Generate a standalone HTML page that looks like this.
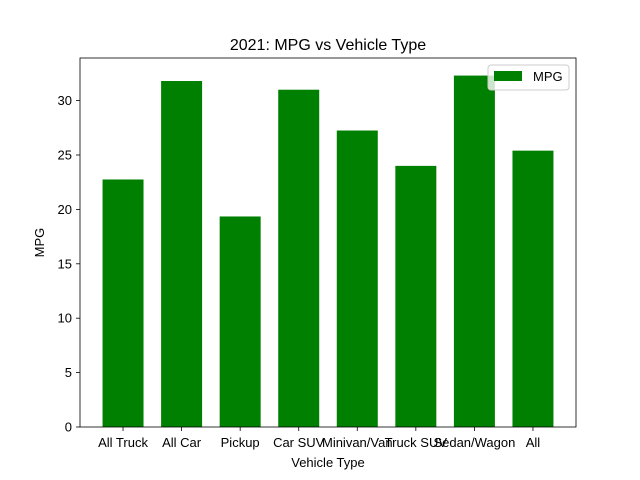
<!DOCTYPE html>
<html><head><meta charset="utf-8"><style>
body{margin:0;background:#fff;}
svg{display:block;font-family:"Liberation Sans","DejaVu Sans",sans-serif;}
</style></head><body>
<svg id="chart" width="640" height="480"></svg>
<script>
const categories=["All Truck","All Car","Pickup","Car SUV","Minivan/Van","Truck SUV","Sedan/Wagon","All"];
const mpgValues=[22.75,31.8,19.35,31.0,27.25,24.0,32.3,25.4];
const yTicks=[0,5,10,15,20,25,30];
const L=80,R=576,T=58,B=427;
const yMax=Math.max(...mpgValues)*1.05;
const n=categories.length;
const xMin=-0.35-0.05*(n-1+0.7), xMax=n-1+0.35+0.05*(n-1+0.7);
const xs=v=>L+(v-xMin)/(xMax-xMin)*(R-L);
const ys=v=>B-v/yMax*(B-T);
const NS="http://www.w3.org/2000/svg";
const svg=document.getElementById('chart');
function mk(tag,attrs,text){const e=document.createElementNS(NS,tag);for(const k in attrs)e.setAttribute(k,attrs[k]);if(text!==undefined)e.textContent=text;svg.appendChild(e);return e;}
categories.forEach((c,i)=>{
  const w=xs(0.35)-xs(-0.35);
  const r=mk('rect',{x:xs(i)-w/2,y:ys(mpgValues[i]),width:w,height:B-ys(mpgValues[i]),fill:'#008000'});
  
  
  const t=mk('line',{x1:xs(i),x2:xs(i),y1:B,y2:B+4,stroke:'#000','stroke-width':0.8});
  const lb=mk('text',{x:xs(i),y:B+20,'text-anchor':'middle','font-size':13},c);
  
  
});
yTicks.forEach(v=>{
  mk('line',{x1:L-4,x2:L,y1:ys(v),y2:ys(v),stroke:'#000','stroke-width':0.8});
  const lb=mk('text',{x:L-8,y:ys(v)+4.5,'text-anchor':'end','font-size':13},v);
  
  
});
const frame=mk('rect',{x:L,y:T,width:R-L,height:B-T,fill:'none',stroke:'#000','stroke-width':0.8});


const ti=mk('text',{x:(L+R)/2,y:50,'text-anchor':'middle','font-size':16},'2021: MPG vs Vehicle Type');


const xt=mk('text',{x:(L+R)/2,y:467,'text-anchor':'middle','font-size':13},'Vehicle Type');


const yt=mk('text',{x:44,y:(T+B)/2,'text-anchor':'middle','font-size':13,transform:'rotate(-90 44 '+((T+B)/2)+')'},'MPG');


const lg=mk('rect',{x:488,y:65,width:81,height:25,rx:3,fill:'#fff','fill-opacity':0.8,stroke:'#ccc'});


const sw=mk('rect',{x:494,y:71,width:28,height:10,fill:'#008000'});


const lt=mk('text',{x:533,y:81,'font-size':13},'MPG');


</script>
</body></html>
